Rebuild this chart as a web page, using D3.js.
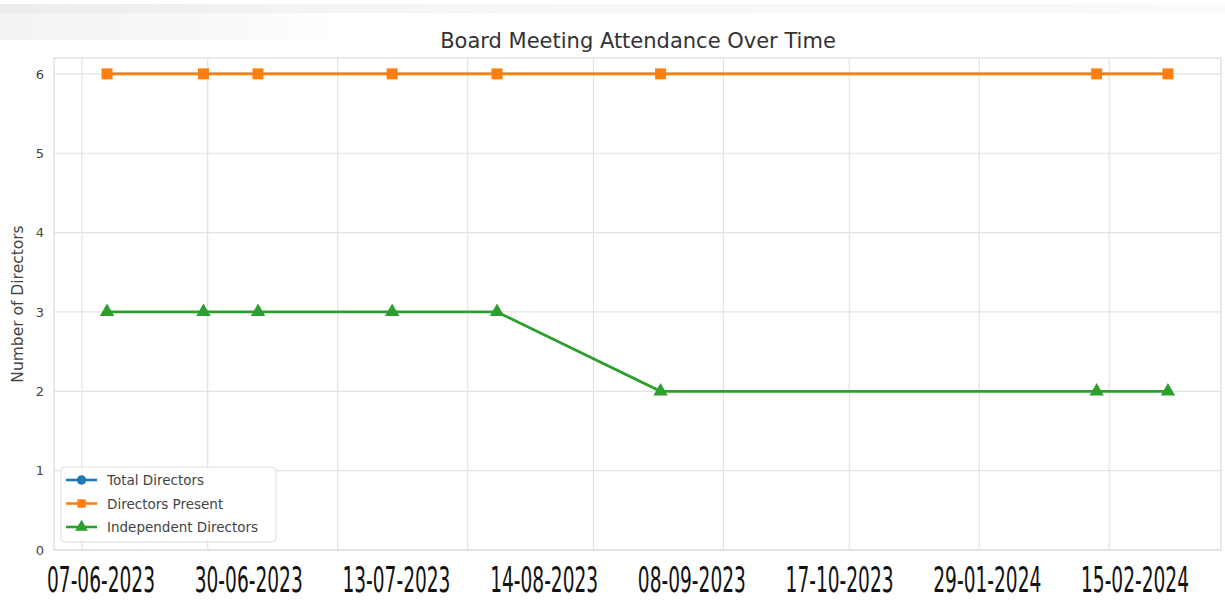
<!DOCTYPE html>
<html lang="en">
<head>
    <meta charset="UTF-8">
    <title>Board Meeting Attendance Over Time</title>
    <style>
        body { margin: 0; background: #fff; }
        svg { display: block; }
    </style>
</head>
<body>
<div id="chart"></div>

<script src="https://d3js.org/d3.v7.min.js"></script>
<script>
    // meeting dates and the three series
    var dates = ["07-06-2023", "30-06-2023", "13-07-2023", "14-08-2023",
                 "08-09-2023", "17-10-2023", "29-01-2024", "15-02-2024"];
    var totalDirectors = [6, 6, 6, 6, 6, 6, 6, 6];
    var directorsPresent = [6, 6, 6, 6, 6, 6, 6, 6];
    var independentDirectors = [3, 3, 3, 3, 3, 2, 2, 2];
    var yTicks = [0, 1, 2, 3, 4, 5, 6];

    var width = 1225, height = 601;
    var plot = {left: 54, right: 1221, top: 58, bottom: 550};

    var parse = d3.timeParse("%d-%m-%Y");
    var times = dates.map(parse);

    var svg = d3.select("#chart").append("svg")
        .attr("width", width)
        .attr("height", height);

    // faint grey band at the top (screenshot edge)
    var defs = svg.append("defs");
    var grad = defs.append("linearGradient")
        .attr("id", "topband").attr("x1", 0).attr("x2", 1).attr("y1", 0).attr("y2", 0);
    grad.append("stop").attr("offset", "0%").attr("stop-color", "#ececef");
    grad.append("stop").attr("offset", "30%").attr("stop-color", "#f5f5f7");
    grad.append("stop").attr("offset", "100%").attr("stop-color", "#fafafb");
    var grad2 = defs.append("linearGradient")
        .attr("id", "leftband").attr("x1", 0).attr("x2", 1).attr("y1", 0).attr("y2", 0);
    grad2.append("stop").attr("offset", "0%").attr("stop-color", "#f3f3f5");
    grad2.append("stop").attr("offset", "60%").attr("stop-color", "#f8f8fa");
    grad2.append("stop").attr("offset", "100%").attr("stop-color", "#ffffff");
    svg.append("rect").attr("x", 0).attr("y", 4).attr("width", width).attr("height", 9)
        .attr("fill", "url(#topband)");
    svg.append("rect").attr("x", 0).attr("y", 13).attr("width", 340).attr("height", 27)
        .attr("fill", "url(#leftband)");

    // x is a real time scale, with 5% margin like matplotlib
    var ext = d3.extent(times);
    var pad = (ext[1] - ext[0]) * 0.05;
    var x = d3.scaleTime()
        .domain([new Date(+ext[0] - pad), new Date(+ext[1] + pad)])
        .range([plot.left, plot.right]);

    var y = d3.scaleLinear()
        .domain([0, 6.2])
        .range([plot.bottom, plot.top]);

    // grid
    var grid = svg.append("g").attr("stroke", "#e3e3e3").attr("stroke-width", 1.2);
    grid.selectAll(".vx")
        .data(x.ticks(d3.timeMonth.every(1)))
        .enter().append("line")
        .attr("x1", function(d) { return x(d); })
        .attr("x2", function(d) { return x(d); })
        .attr("y1", plot.top).attr("y2", plot.bottom);
    grid.selectAll(".hy")
        .data(yTicks)
        .enter().append("line")
        .attr("x1", plot.left).attr("x2", plot.right)
        .attr("y1", function(d) { return y(d); })
        .attr("y2", function(d) { return y(d); });

    // frame
    svg.append("rect")
        .attr("x", plot.left).attr("y", plot.top)
        .attr("width", plot.right - plot.left).attr("height", plot.bottom - plot.top)
        .attr("fill", "none").attr("stroke", "#dcdcdc").attr("stroke-width", 1.2);

    // y axis labels
    var yAxis = d3.axisLeft(y).tickValues(yTicks).tickFormat(d3.format("d"))
        .tickSize(0).tickPadding(10);
    var yg = svg.append("g")
        .attr("transform", "translate(" + plot.left + ",0)")
        .call(yAxis);
    yg.select(".domain").remove();
    yg.selectAll("text")
        .attr("font-family", "DejaVu Sans")
        .attr("font-size", 13)
        .attr("fill", "#444");

    svg.append("text")
        .attr("transform", "translate(23," + ((plot.top + plot.bottom) / 2) + ") rotate(-90)")
        .attr("text-anchor", "middle")
        .attr("font-family", "DejaVu Sans")
        .attr("font-size", 15.5)
        .attr("fill", "#444")
        .text("Number of Directors");

    // title
    svg.append("text")
        .attr("x", 638).attr("y", 48)
        .attr("text-anchor", "middle")
        .attr("font-family", "DejaVu Sans")
        .attr("font-size", 21)
        .attr("fill", "#333")
        .text("Board Meeting Attendance Over Time");

    // series
    var series = [
        {name: "Total Directors", values: totalDirectors, color: "#1f77b4", symbol: d3.symbolCircle, size: 70},
        {name: "Directors Present", values: directorsPresent, color: "#ff7f0e", symbol: d3.symbolSquare, size: 121},
        {name: "Independent Directors", values: independentDirectors, color: "#2ca02c", symbol: d3.symbolTriangle, size: 90}
    ];

    var line = d3.line()
        .x(function(d) { return x(d.t); })
        .y(function(d) { return y(d.v); });

    series.forEach(function(s) {
        var pts = s.values.map(function(v, i) { return {t: times[i], v: v}; });
        svg.append("path")
            .datum(pts)
            .attr("fill", "none")
            .attr("stroke", s.color)
            .attr("stroke-width", s.name === "Total Directors" ? 2 : 2.8)
            .attr("d", line);
        svg.selectAll(null)
            .data(pts)
            .enter().append("path")
            .attr("transform", function(d) { return "translate(" + x(d.t) + "," + y(d.v) + ")"; })
            .attr("d", d3.symbol().type(s.symbol).size(s.size))
            .attr("fill", s.color);
    });

    // legend
    var lg = svg.append("g").attr("transform", "translate(61,467)");
    lg.append("rect")
        .attr("width", 215).attr("height", 75).attr("rx", 4)
        .attr("fill", "#fff").attr("fill-opacity", 0.85)
        .attr("stroke", "#dedede");
    series.forEach(function(s, i) {
        var g = lg.append("g").attr("transform", "translate(0," + (13 + i * 23.5) + ")");
        g.append("line").attr("x1", 5).attr("x2", 36)
            .attr("stroke", s.color).attr("stroke-width", 2.6);
        g.append("path").attr("transform", "translate(20.5,0)")
            .attr("d", d3.symbol().type(s.symbol).size(70))
            .attr("fill", s.color);
        g.append("text").attr("x", 46).attr("y", 5)
            .attr("font-family", "DejaVu Sans")
            .attr("font-size", 13.5)
            .attr("fill", "#444")
            .text(s.name);
    });

    // date labels under the plot, evenly spaced; narrow font stretched tall
    var xl = d3.scalePoint().domain(dates).range([101, 1135]);
    svg.selectAll(".dl")
        .data(dates)
        .enter().append("text")
        .attr("transform", function(d) { return "translate(" + xl(d) + ",592) scale(1,1.85)"; })
        .attr("text-anchor", "middle")
        .attr("font-family", "DejaVu Sans Condensed, DejaVu Sans")
        .attr("font-size", 19)
        .attr("textLength", 108)
        .attr("lengthAdjust", "spacingAndGlyphs")
        .attr("fill", "#111")
        .text(function(d) { return d; });
</script>
</body>
</html>
